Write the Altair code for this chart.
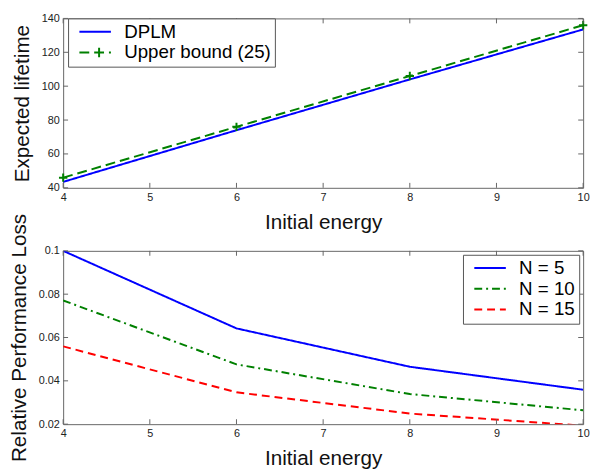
import altair as alt
import pandas as pd

# ---------------- data ----------------
energy = [4, 6, 8, 10]
dplm = [43.5, 74, 104, 133.5]
upper_bound = [46, 76, 106, 136]

n5 = [0.1, 0.0642, 0.0465, 0.0359]
n10 = [0.0771, 0.0476, 0.0339, 0.0264]
n15 = [0.0559, 0.0347, 0.0249, 0.0193]

top_series = ["DPLM", "Upper bound (25)"]
bot_series = ["N = 5", "N = 10", "N = 15"]

x_ticks = [4, 5, 6, 7, 8, 9, 10]
top_y_ticks = [40, 60, 80, 100, 120, 140]
bot_y_ticks = [0.02, 0.04, 0.06, 0.08, 0.1]

# ---------------- tables ----------------
top_df = pd.DataFrame({
    "energy": energy * 2,
    "value": dplm + upper_bound,
    "series": [top_series[0]] * 4 + [top_series[1]] * 4,
})
up_df = top_df[top_df["series"] == top_series[1]]
bot_df = pd.DataFrame({
    "energy": energy * 3,
    "value": n5 + n10 + n15,
    "series": [bot_series[0]] * 4 + [bot_series[1]] * 4 + [bot_series[2]] * 4,
})
xt_df = pd.DataFrame({"t": x_ticks})
yt_top_df = pd.DataFrame({"v": top_y_ticks})
yt_bot_df = pd.DataFrame({"v": bot_y_ticks})

W = 528
H1 = 172
H2 = 176
FONT = "Liberation Sans"
BOX = "#666666"
TICK = 5

xs = alt.Scale(domain=[4, 10], nice=False, zero=False)
ys_top = alt.Scale(domain=[40, 140], nice=False, zero=False)
ys_bot = alt.Scale(domain=[0.02, 0.1], nice=False, zero=False)

# legend line symbols: 32px long line, inset from the legend's left edge
LINE_SYM = "M-0.25,0H3.75"
PLUS_SYM = "M-0.25,0H3.75M2.25,-0.6V0.6"


def axis(values, fmt):
    return alt.Axis(values=values, format=fmt, ticks=False, domain=False, grid=False,
                    labelFontSize=11, labelColor="#222222", labelFont=FONT,
                    labelPadding=4, titleFontSize=21, titleFont=FONT,
                    titleFontWeight="normal", titleColor="#111111", titlePadding=9,
                    labelFlush=False, labelOverlap=False)


x_axis = axis(x_ticks, "d")
y_axis_top = axis(top_y_ticks, "d")
y_axis_bot = axis(bot_y_ticks, "~g")

XT = "Initial energy"


def tick_layers(ydf, ys, yaxis, ytitle, h):
    xb = alt.Chart(xt_df).mark_rule(color=BOX, strokeWidth=1).encode(
        x=alt.X("t:Q", scale=xs, axis=x_axis, title=XT),
        y=alt.value(h - TICK), y2=alt.value(h))
    xt = alt.Chart(xt_df).mark_rule(color=BOX, strokeWidth=1).encode(
        x=alt.X("t:Q", scale=xs, axis=x_axis, title=XT),
        y=alt.value(0), y2=alt.value(TICK))
    yl = alt.Chart(ydf).mark_rule(color=BOX, strokeWidth=1).encode(
        y=alt.Y("v:Q", scale=ys, axis=yaxis, title=ytitle),
        x=alt.value(0), x2=alt.value(TICK))
    yr = alt.Chart(ydf).mark_rule(color=BOX, strokeWidth=1).encode(
        y=alt.Y("v:Q", scale=ys, axis=yaxis, title=ytitle),
        x=alt.value(W - TICK), x2=alt.value(W))
    return [xb, xt, yl, yr]


def legend(x, y):
    return alt.Legend(orient="none", legendX=x, legendY=y, title=None,
                      fillColor="white", strokeColor="#555555", padding=4,
                      labelFontSize=19, labelFont=FONT, labelColor="#000000",
                      symbolSize=256, symbolStrokeWidth=2, labelOffset=34,
                      rowPadding=1, symbolType=LINE_SYM)


# ---------------- top panel ----------------
YT1 = "Expected lifetime"
top_legend = legend(5, 0)
top_color = alt.Scale(domain=top_series, range=["#0000ff", "#008000"])
top_dash = alt.Scale(domain=top_series, range=[[1, 0], [10, 5]])
top_shape = alt.Scale(domain=top_series, range=[LINE_SYM, PLUS_SYM])

top_lines = alt.Chart(top_df).mark_line(strokeWidth=2, clip=True).encode(
    x=alt.X("energy:Q", scale=xs, axis=x_axis, title=XT),
    y=alt.Y("value:Q", scale=ys_top, axis=y_axis_top, title=YT1),
    color=alt.Color("series:N", scale=top_color, legend=top_legend),
    strokeDash=alt.StrokeDash("series:N", scale=top_dash, legend=top_legend),
)
top_marks = alt.Chart(up_df).mark_point(shape="M-1,0H1M0,-1V1", size=72, filled=False,
                                        strokeWidth=2, color="#008000", opacity=1).encode(
    x=alt.X("energy:Q", scale=xs, axis=x_axis, title=XT),
    y=alt.Y("value:Q", scale=ys_top, axis=y_axis_top, title=YT1),
)
top_leg = alt.Chart(top_df).transform_filter("false").mark_point(
    filled=False, strokeWidth=2, opacity=1).encode(
    x=alt.X("energy:Q", scale=xs, axis=x_axis, title=XT),
    y=alt.Y("value:Q", scale=ys_top, axis=y_axis_top, title=YT1),
    color=alt.Color("series:N", scale=top_color, legend=top_legend),
    strokeDash=alt.StrokeDash("series:N", scale=top_dash, legend=top_legend),
    shape=alt.Shape("series:N", scale=top_shape, legend=top_legend),
)
top = alt.layer(top_lines, top_marks, top_leg,
                *tick_layers(yt_top_df, ys_top, y_axis_top, YT1, H1)).properties(width=W, height=H1)

# ---------------- bottom panel ----------------
YT2 = "Relative Performance Loss"
bot_legend = legend(W - 122, 4)
bot_color = alt.Scale(domain=bot_series, range=["#0000ff", "#008000", "#ff0000"])
bot_dash = alt.Scale(domain=bot_series, range=[[1, 0], [8, 4, 2, 4], [8, 5]])

bot_lines = alt.Chart(bot_df).mark_line(strokeWidth=2, clip=True).encode(
    x=alt.X("energy:Q", scale=xs, axis=x_axis, title=XT),
    y=alt.Y("value:Q", scale=ys_bot, axis=y_axis_bot, title=YT2),
    color=alt.Color("series:N", scale=bot_color, legend=bot_legend),
    strokeDash=alt.StrokeDash("series:N", scale=bot_dash, legend=bot_legend),
)
bottom = alt.layer(bot_lines,
                   *tick_layers(yt_bot_df, ys_bot, y_axis_bot, YT2, H2)).properties(width=W, height=H2)

chart = alt.vconcat(top, bottom, spacing=64, bounds="flush").resolve_scale(
    color="independent", strokeDash="independent", shape="independent"
).resolve_legend(color="independent", strokeDash="independent", shape="independent").properties(
    padding={"left": 0, "top": 0, "right": 0, "bottom": 0}
).configure(font=FONT).configure_view(stroke=BOX, strokeWidth=1)

chart.save("out.html", embed_options={"renderer": "svg", "actions": False})
